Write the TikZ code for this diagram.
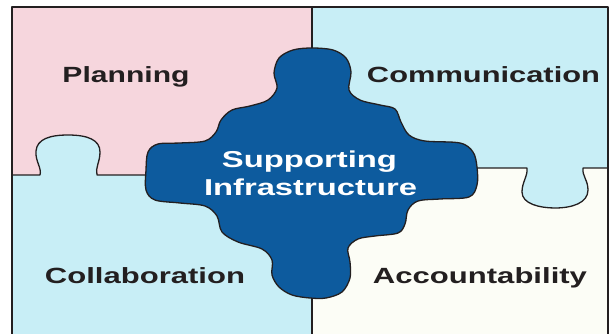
\documentclass[tikz,border=0pt]{standalone}
\usepackage{fontspec}
\usepackage{graphicx}
\setmainfont{Liberation Sans}
\definecolor{planpink}{RGB}{246,214,221}
\definecolor{paleblue}{RGB}{200,238,246}
\definecolor{cream}{RGB}{252,253,246}
\definecolor{hubblue}{RGB}{13,91,158}
\definecolor{ink}{RGB}{35,31,32}
% wide bold label stretched to a given width
\newcommand\widelabel[3]{\resizebox{#1}{\height}{\fontsize{#2}{#2}\selectfont\bfseries #3}}
\begin{document}
\begin{tikzpicture}[x=1pt,y=-1pt,
  edge/.style={draw=ink,line width=1.3pt,line join=round},
  quadlabel/.style={anchor=base,inner sep=0pt,text=ink},
  hublabel/.style={anchor=base,inner sep=0pt,text=white}]
\useasboundingbox (0,0) rectangle (611,334);
\fill[white] (0,0) rectangle (611,334);

% four quadrants
\fill[planpink] (12,7) rectangle (312,175);
\fill[paleblue] (312,7) rectangle (608,168);
\fill[paleblue] (12,175) rectangle (312,334);
\fill[cream] (312,168) rectangle (608,334);

% tab of the lower-left piece reaching into the upper-left piece
\coordinate (lt1) at (40,175);
\coordinate (lt2) at (97,175);
\fill[paleblue] (lt1) .. controls (42,168) and (35,161) .. (36,151)
  .. controls (37,139) and (50,135) .. (68,135)
  .. controls (88,135) and (100,140) .. (100,152)
  .. controls (100,162) and (95,168) .. (lt2) -- cycle;
\draw[edge] (12,175) -- (lt1) .. controls (42,168) and (35,161) .. (36,151)
  .. controls (37,139) and (50,135) .. (68,135)
  .. controls (88,135) and (100,140) .. (100,152)
  .. controls (100,162) and (95,168) .. (lt2) -- (160,175);

% tab of the upper-right piece reaching into the lower-right piece
\coordinate (rt1) at (527,168);
\coordinate (rt2) at (583,168);
\fill[paleblue] (rt1) .. controls (528,176) and (522,182) .. (522,192)
  .. controls (522,204) and (540,208) .. (555,208)
  .. controls (572,208) and (588,203) .. (588,190)
  .. controls (588,180) and (582,176) .. (rt2) -- cycle;
\draw[edge] (460,168) -- (rt1) .. controls (528,176) and (522,182) .. (522,192)
  .. controls (522,204) and (540,208) .. (555,208)
  .. controls (572,208) and (588,203) .. (588,190)
  .. controls (588,180) and (582,176) .. (rt2) -- (608,168);

% vertical divider and outer frame
\draw[edge] (312,7) -- (312,334);
\draw[edge] (12,334) -- (12,7) -- (608,7) -- (608,334);

% central piece
\filldraw[edge,fill=hubblue] plot[smooth cycle,tension=0.55] coordinates {
  (312,48) (333,50) (346,58) (351,72) (349,90) (360,100) (380,105)
  (395,109) (401,122) (409,135) (425,141) (460,143) (473,152) (477,167)
  (477,185) (469,197) (440,199) (418,201) (408,210) (405,224) (398,233)
  (375,236) (358,239) (348,248) (350,262) (350,278) (342,292) (326,298)
  (310,298) (292,295) (279,287) (272,275) (272,260) (262,249) (238,242)
  (222,232) (217,216) (205,206) (180,203) (155,200) (146,190) (146,170)
  (148,152) (158,144) (180,143) (205,141) (216,132) (221,120) (232,110)
  (250,106) (268,100) (277,88) (274,73) (279,58) (293,50)};

% labels
\node[quadlabel] (plan) at (126,82.5) {\widelabel{127pt}{22}{Planning}};
\node[quadlabel] (comm) at (483.5,83) {\widelabel{233pt}{22}{Communication}};
\node[quadlabel] (coll) at (145,283) {\widelabel{200pt}{22}{Collaboration}};
\node[quadlabel] (acct) at (480,283) {\widelabel{214pt}{22}{Accountability}};
\node[hublabel] (sup) at (309.5,168) {\widelabel{175pt}{23}{Supporting}};
\node[hublabel] (inf) at (310.5,196) {\widelabel{213pt}{23}{Infrastructure}};
\end{tikzpicture}
\end{document}
